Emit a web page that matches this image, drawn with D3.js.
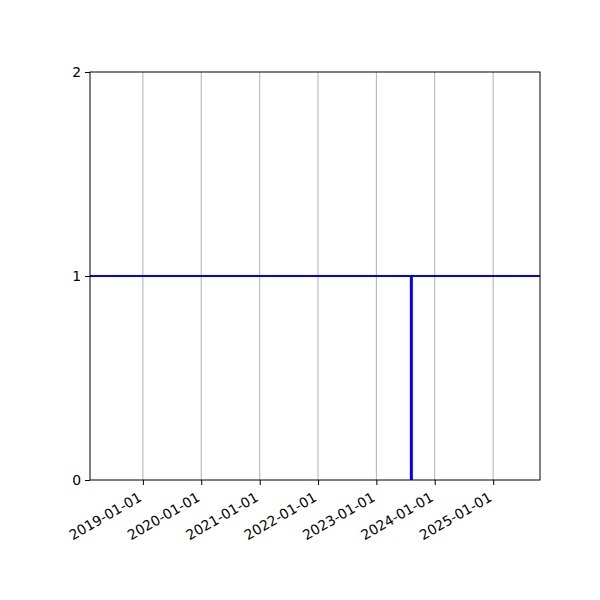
<!DOCTYPE html>
<html>
<head>
<meta charset="utf-8">
<script src="https://cdn.jsdelivr.net/npm/d3@7"></script>
<style>
  body { margin: 0; background: #fff; }
  svg text { font-family: "DejaVu Sans", sans-serif; font-size: 13.9px; fill: #000; }
</style>
</head>
<body>
<svg id="chart" width="600" height="600"></svg>
<script>
// data
const xDomain = ["2018-02-04", "2025-10-21"];
const xTickDates = ["2019-01-01", "2020-01-01", "2021-01-01", "2022-01-01", "2023-01-01", "2024-01-01", "2025-01-01"];
const yTicks = [0, 1, 2];
const levelLine = [
    { date: "2018-02-04", value: 1 },
    { date: "2025-10-21", value: 1 }
];
const eventLine = [
    { date: "2023-08-08", value: 0 },
    { date: "2023-08-08", value: 1 }
];

const parse = d3.utcParse("%Y-%m-%d");
const fmt = d3.utcFormat("%Y-%m-%d");

const margin = { top: 72, right: 60, bottom: 120, left: 90 };
const width = 600 - margin.left - margin.right;
const height = 600 - margin.top - margin.bottom;

const svg = d3.select("#chart");
const g = svg.append("g").attr("transform", `translate(${margin.left},${margin.top})`);

const x = d3.scaleUtc().domain(xDomain.map(parse)).range([0, width]);
const y = d3.scaleLinear().domain([0, 2]).range([height, 0]);

// vertical grid
g.append("g")
    .selectAll("line")
    .data(xTickDates.map(parse))
    .enter().append("line")
        .attr("x1", d => x(d)).attr("x2", d => x(d))
        .attr("y1", 0).attr("y2", height)
        .attr("stroke", "#b0b0b0")
        .attr("stroke-width", 1);

const line = d3.line()
    .x(d => x(parse(d.date)))
    .y(d => y(d.value));

g.append("path")
    .datum(levelLine)
    .attr("d", line)
    .attr("fill", "none")
    .attr("stroke", "#0000ff")
    .attr("stroke-width", 2);

g.append("path")
    .datum(eventLine)
    .attr("d", line)
    .attr("fill", "none")
    .attr("stroke", "#0000ff")
    .attr("stroke-width", 3);

// axes
const xAxis = g.append("g")
    .attr("transform", `translate(0,${height})`)
    .call(d3.axisBottom(x).tickValues(xTickDates.map(parse)).tickFormat(fmt).tickSize(5).tickPadding(4));
xAxis.select(".domain").remove();
xAxis.selectAll("text")
    .attr("text-anchor", "end")
    .attr("x", 0)
    .attr("y", 0)
    .attr("dy", "0.75em")
    .attr("transform", "translate(-6,11) rotate(-30)");

const yAxis = g.append("g")
    .call(d3.axisLeft(y).tickValues(yTicks).tickFormat(d3.format("d")).tickSize(5).tickPadding(4));
yAxis.select(".domain").remove();

g.selectAll(".tick line").attr("stroke", "#000").attr("stroke-width", 1);

// frame
g.append("rect")
    .attr("width", width).attr("height", height)
    .attr("fill", "none")
    .attr("stroke", "#000")
    .attr("stroke-width", 1);
</script>
</body>
</html>
